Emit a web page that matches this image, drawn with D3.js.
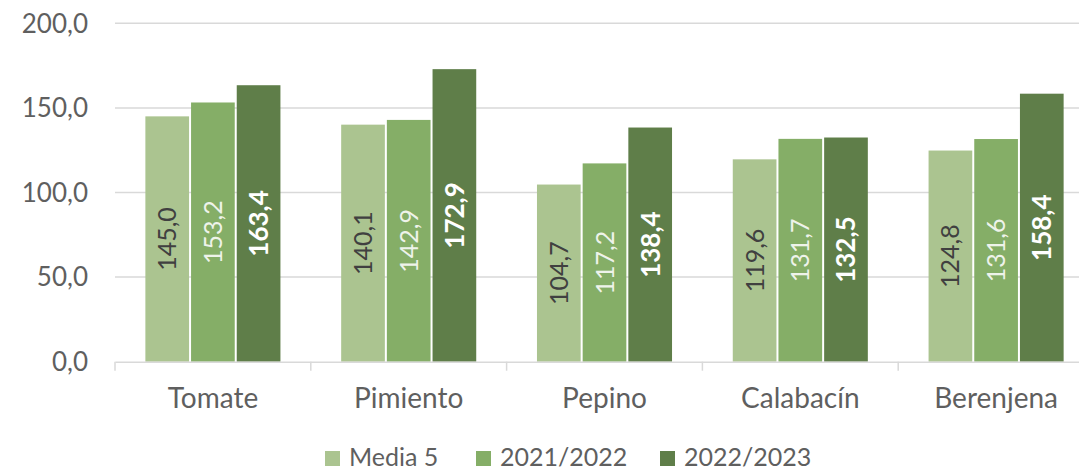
<!DOCTYPE html>
<html><head><meta charset="utf-8">
<script src="https://cdn.jsdelivr.net/npm/d3@7"></script>
<style>body{margin:0;background:#fff}svg{display:block}text{font-family:Lato,"Open Sans",sans-serif}</style>
</head><body><svg id="c" width="1079" height="470"></svg>
<script>
const categories = ["Tomate","Pimiento","Pepino","Calabacín","Berenjena"];
const seriesNames = ["Media 5","2021/2022","2022/2023"];
const media5 = [145.0,140.1,104.7,119.6,124.8];
const s2122 = [153.2,142.9,117.2,131.7,131.6];
const s2223 = [163.4,172.9,138.4,132.5,158.4];
const yTicks = [0,50,100,150,200];
const colors = ["#ABC490","#85AE67","#5F7E49"];
const labelColors = ["#404040","#EEF3EA","#FFFFFF"];
const labelWeights = ["normal","normal","bold"];
const series = [media5,s2122,s2223];

const svg = d3.select("#c");
const fmt = v => d3.format(".1f")(v).replace(".", ",");
const x = d3.scaleBand().domain(categories).range([115,1094]).paddingInner(0.3).paddingOuter(0.15);
const y = d3.scaleLinear().domain([0,200]).range([361.7,23.3]);
const xs = d3.scaleBand().domain(d3.range(3)).range([0,x.bandwidth()]).padding(0);
const band = d3.scaleBand().domain(categories).range([115,1094]);

// gridlines
svg.append("g").selectAll("line").data(yTicks.filter(d=>d>0)).join("line")
  .attr("x1",115).attr("x2",1094).attr("y1",d=>y(d)).attr("y2",d=>y(d))
  .attr("stroke","#D9D9D9").attr("stroke-width",1.5);

// y labels
svg.append("g").selectAll("text").data(yTicks).join("text")
  .attr("x",88).attr("y",d=>y(d)).attr("dy","0.36em").attr("text-anchor","end")
  .attr("fill","#5f5f5f").style("font-size","26px").text(d=>fmt(d));

// bars
categories.forEach((c,i)=>{
  series.forEach((s,k)=>{
    const bx = x(c)+xs(k), bw = xs.bandwidth();
    svg.append("rect").attr("x",bx+1).attr("width",bw-2)
      .attr("y",y(s[i])).attr("height",y(0)-y(s[i]))
      .attr("fill",colors[k]);
    const cx = bx+bw/2, cy = (y(s[i])+y(0))/2;
    svg.append("text").attr("transform",`translate(${cx},${cy}) rotate(-90)`)
      .attr("text-anchor","middle").attr("dy","0.36em")
      .attr("fill",labelColors[k]).style("font-weight",labelWeights[k])
      .style("font-size", k===2 ? "26px" : "25px").text(fmt(s[i]));
  });
});

// x axis
const xAxis = d3.axisBottom(band).tickSize(0).tickFormat(d=>d);
const gx = svg.append("g").attr("transform",`translate(0,${y(0)})`).call(xAxis);
gx.select(".domain").attr("stroke","#D9D9D9").attr("stroke-width",1.5);
gx.selectAll("text").attr("fill","#5f5f5f").attr("y",46).attr("dy",0)
  .style("font-size","28px").style("font-family","Lato,'Open Sans',sans-serif");
svg.append("g").selectAll("line").data(categories).join("line")
  .attr("x1",d=>band(d)).attr("x2",d=>band(d)).attr("y1",y(0)).attr("y2",y(0)+9)
  .attr("stroke","#D9D9D9").attr("stroke-width",1.5);

// legend
const legX = [325,476,660];
const lg = svg.append("g");
seriesNames.forEach((n,k)=>{
  lg.append("rect").attr("x",legX[k]).attr("y",451).attr("width",15).attr("height",15).attr("fill",colors[k]);
  lg.append("text").attr("x",legX[k]+24).attr("y",466)
    .attr("fill","#5f5f5f").style("font-size","25px").text(n);
});
</script></body></html>
